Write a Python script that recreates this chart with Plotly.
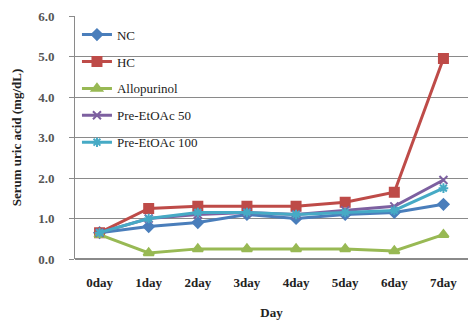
import plotly.graph_objects as go

days = ["0day", "1day", "2day", "3day", "4day", "5day", "6day", "7day"]
y_ticks = [0, 1, 2, 3, 4, 5, 6]
y_tick_labels = ["0.0", "1.0", "2.0", "3.0", "4.0", "5.0", "6.0"]

nc = [0.65, 0.80, 0.90, 1.10, 1.00, 1.10, 1.15, 1.35]
hc = [0.65, 1.25, 1.30, 1.30, 1.30, 1.40, 1.65, 4.95]
allopurinol = [0.60, 0.15, 0.25, 0.25, 0.25, 0.25, 0.20, 0.60]
pre_etoac_50 = [0.65, 1.00, 1.10, 1.15, 1.10, 1.20, 1.30, 1.95]
pre_etoac_100 = [0.65, 1.00, 1.15, 1.15, 1.10, 1.15, 1.20, 1.75]

series = [
    ("NC", nc, "#4A7EBB", "diamond", 8),
    ("HC", hc, "#BE4B48", "square", 9),
    ("Allopurinol", allopurinol, "#98B954", "triangle-up", 9),
    ("Pre-EtOAc 50", pre_etoac_50, "#7D60A0", "x-thin-open", 8),
    ("Pre-EtOAc 100", pre_etoac_100, "#46AAC5", "asterisk-open", 8),
]

fig = go.Figure()
for name, vals, color, sym, size in series:
    fig.add_trace(go.Scatter(
        x=days, y=vals, name=name, mode="lines+markers", legendgroup=name,
        line=dict(color=color, width=3),
        marker=dict(symbol=sym, size=size, color=color,
                    line=dict(color=color, width=2)),
    ))

serif = "Liberation Serif"
fig.update_layout(
    width=468, height=328,
    margin=dict(l=75, r=0, t=16, b=69),
    paper_bgcolor="white", plot_bgcolor="white",
    font=dict(family=serif, size=13, color="#222"),
    showlegend=True,
    legend=dict(x=0.005, y=0.985, xanchor="left", yanchor="top",
                bgcolor="rgba(0,0,0,0)", tracegroupgap=7,
                font=dict(family=serif, size=13, color="#222")),
    xaxis=dict(type="category", range=[-0.5, 7.5], showgrid=False,
               showline=False, ticks="", ticklabelstandoff=14,
               tickvals=days, ticktext=["<b>%s</b>" % d for d in days],
               tickfont=dict(family=serif, size=13, color="#222"),
               title=dict(text="<b>Day</b>", font=dict(family=serif, size=13), standoff=18)),
    yaxis=dict(range=[0, 6], tickvals=y_ticks, ticktext=["<b>%s</b>" % t for t in y_tick_labels],
               showgrid=True, gridcolor="#8a8a8a", gridwidth=1,
               showline=True, linecolor="#8a8a8a", zeroline=True, zerolinecolor="#8a8a8a",
               ticks="outside", ticklen=5, tickcolor="#8a8a8a", ticklabelstandoff=12,
               tickfont=dict(family=serif, size=13, color="#555"),
               title=dict(text="<b>Serum uric acid (mg/dL)</b>", font=dict(family=serif, size=13),
                          standoff=13)),
)

fig.write_html("out.html")
